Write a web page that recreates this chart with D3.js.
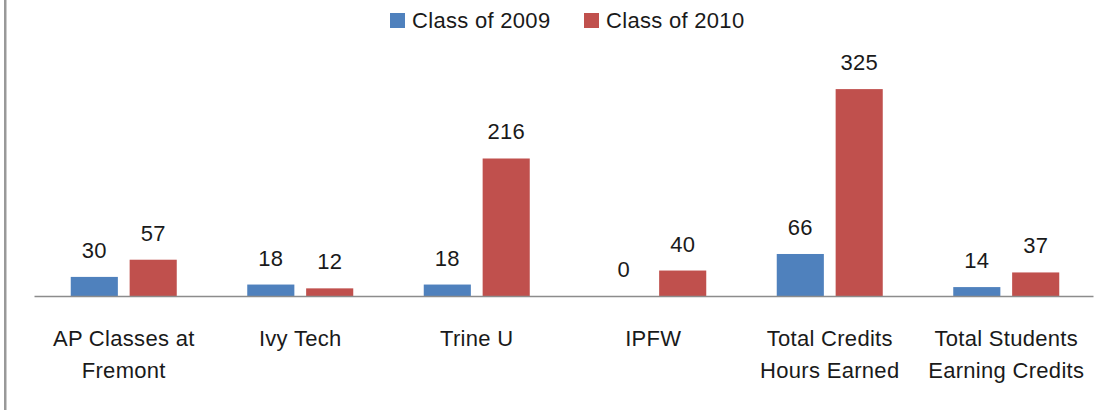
<!DOCTYPE html>
<html>
<head>
<meta charset="utf-8">
<script src="https://cdn.jsdelivr.net/npm/d3@7"></script>
<style>
    body { margin: 0; background: #fff; }
    svg text { font-family: "Liberation Sans", Arial, sans-serif; fill: #1a1a1a; letter-spacing: 0.3px; }
</style>
</head>
<body>
<svg id="chart" width="1110" height="410"></svg>
<script>
// DATA
const categories = [
    ['AP Classes at', 'Fremont'],
    ['Ivy Tech'],
    ['Trine U'],
    ['IPFW'],
    ['Total Credits', 'Hours Earned'],
    ['Total Students', 'Earning Credits']
]
const seriesNames = ['Class of 2009', 'Class of 2010']
const class2009 = [30, 18, 18, 0, 66, 14]
const class2010 = [57, 12, 216, 40, 325, 37]

// LAYOUT
const colours = ['#4F81BD', '#C0504D'],
    fontSize = 22,
    baseY = 296,
    plot = { left: 34, right: 1093 }

const svg = d3.select('#chart')

// left frame edge
svg.append('rect').attr('x', 4).attr('y', 0).attr('width', 2.5).attr('height', 410).attr('fill', '#999')

// bar pairs ~106px wide inside a 176.5px slot
const slot = (plot.right - plot.left) / categories.length
const x0 = d3.scaleBand().domain(d3.range(categories.length)).range([plot.left + 1.5, plot.right + 1.5])
    .paddingInner(70.5 / slot).paddingOuter(35.25 / slot)
const x1 = d3.scaleBand().domain([0, 1]).range([0, x0.bandwidth()]).paddingInner(0.2)
const y = d3.scaleLinear().domain([0, 350]).range([baseY, baseY - 350 * 0.6366])

const rows = categories.map((c, i) => ({ i, vals: [class2009[i], class2010[i]] }))

const groups = svg.append('g').selectAll('g').data(rows).join('g')
    .attr('transform', d => `translate(${x0(d.i)},0)`)

groups.selectAll('rect').data(d => d.vals.map((v, s) => ({ v, s }))).join('rect')
    .attr('x', d => x1(d.s))
    .attr('y', d => y(d.v))
    .attr('width', x1.bandwidth())
    .attr('height', d => baseY - y(d.v))
    .attr('fill', d => colours[d.s])

groups.selectAll('text.val').data(d => d.vals.map((v, s) => ({ v, s }))).join('text')
    .attr('class', 'val')
    .attr('x', d => x1(d.s) + x1.bandwidth() / 2)
    .attr('y', d => y(d.v) - 19)
    .attr('text-anchor', 'middle')
    .style('font-size', fontSize + 'px')
    .text(d => d.v)

// x axis
const xAxis = d3.axisBottom(d3.scaleLinear().range([plot.left, plot.right])).tickValues([]).tickSizeOuter(0)
svg.append('g').attr('transform', `translate(0,${baseY})`).call(xAxis)
    .select('.domain').attr('stroke', '#8c8c8c').attr('stroke-width', 1.5)

// category labels
svg.append('g').selectAll('text').data(categories).join('text')
    .attr('text-anchor', 'middle')
    .attr('x', (d, i) => plot.left + 1.5 + slot * (i + 0.5))
    .attr('y', 346)
    .style('font-size', fontSize + 'px')
    .selectAll('tspan').data(d => d).join('tspan')
    .attr('x', function() { return this.parentNode.getAttribute('x') })
    .attr('dy', (d, j) => j ? 32 : 0)
    .text(d => d)

// legend
const legendX = [390, 584]
const legend = svg.append('g').selectAll('g').data(seriesNames).join('g')
    .attr('transform', (d, i) => `translate(${legendX[i]},13)`)
legend.append('rect').attr('width', 15).attr('height', 15).attr('fill', (d, i) => colours[i])
legend.append('text').attr('x', 22).attr('y', 15).style('font-size', fontSize + 'px').text(d => d)
</script>
</body>
</html>
